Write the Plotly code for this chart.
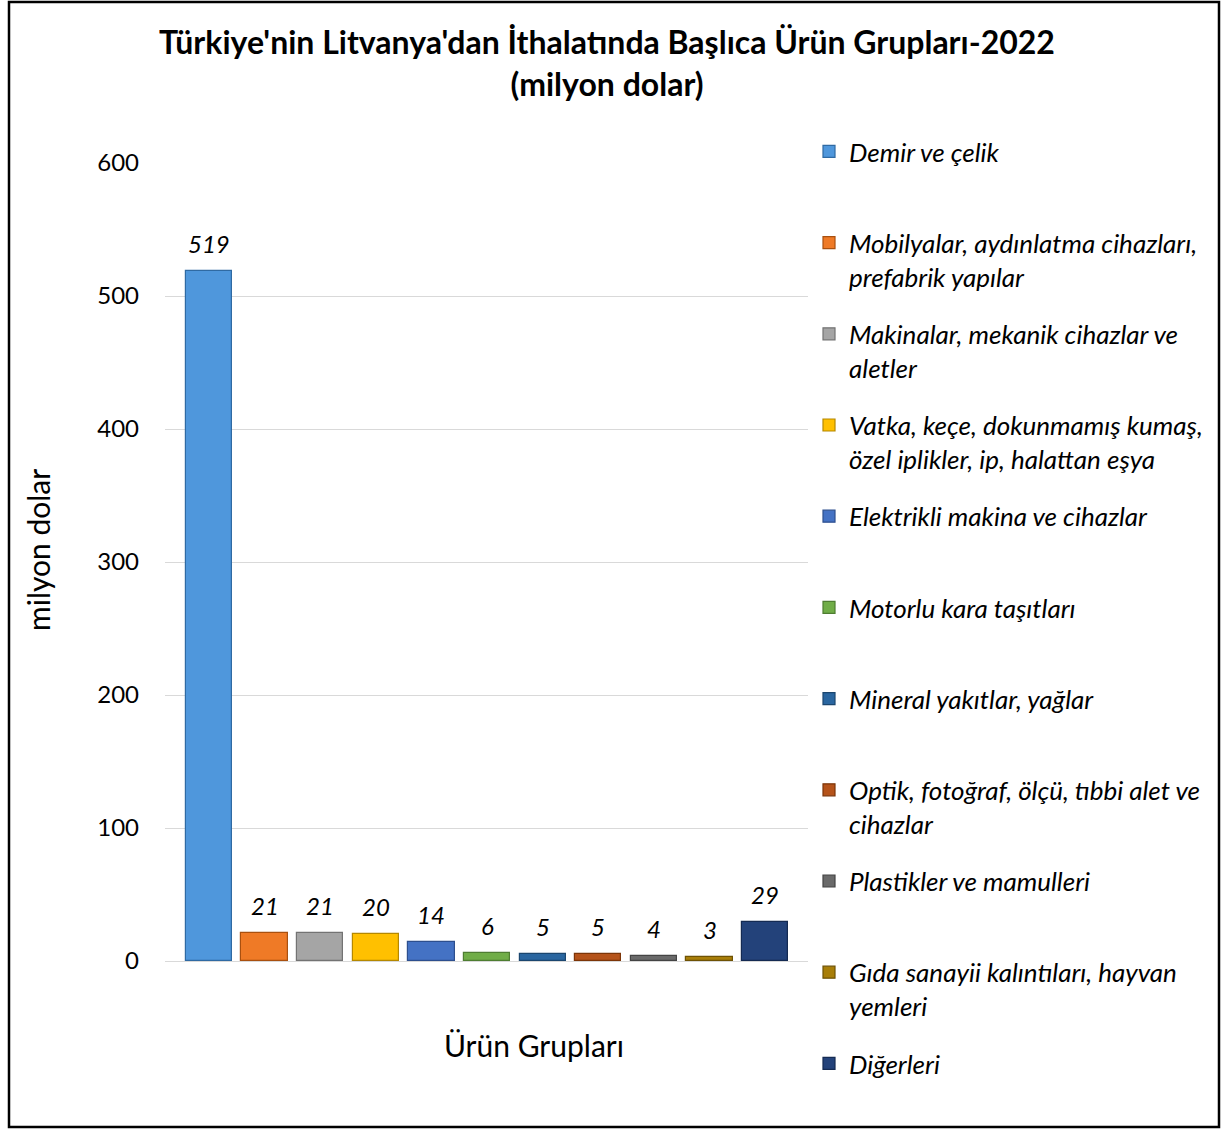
import plotly.graph_objects as go

# Türkiye'nin Litvanya'dan ithalatı, 2022, milyon dolar
groups = [
    "Demir ve çelik",
    "Mobilyalar, aydınlatma cihazları,<br>prefabrik yapılar",
    "Makinalar, mekanik cihazlar ve<br>aletler",
    "Vatka, keçe, dokunmamış kumaş,<br>özel iplikler, ip, halattan eşya",
    "Elektrikli makina ve cihazlar",
    "Motorlu kara taşıtları",
    "Mineral yakıtlar, yağlar",
    "Optik, fotoğraf, ölçü, tıbbi alet ve<br>cihazlar",
    "Plastikler ve mamulleri",
    "Gıda sanayii kalıntıları, hayvan<br>yemleri",
    "Diğerleri",
]
values = [519, 21, 21, 20, 14, 6, 5, 5, 4, 3, 29]
colors = ["#4f97dc", "#ef7a26", "#a5a5a5", "#ffc000", "#4472c4", "#70ad47",
          "#2a66a0", "#b5531a", "#6a6a6a", "#a87e08", "#23427a"]
edges = ["#2f6aa3", "#a9500f", "#737373", "#b58800", "#2d4f8e", "#4e7d31",
         "#1b466f", "#7c3508", "#444444", "#6e5204", "#142a52"]

W, H = 1223, 1130
L, R, T, B = 165, 808, 163, 961  # plot area in page pixels

def px_x(p):
    return (p - L) / (R - L)

def px_y(p):
    return (B - p) / (B - T)

FONT = "Lato"

fig = go.Figure()
layout_legends = {}
for i, (name, v) in enumerate(zip(groups, values)):
    key = "legend" if i == 0 else "legend%d" % (i + 1)
    fig.add_trace(go.Bar(
        x=[i], y=[v], name=name, width=0.83,
        marker=dict(color=colors[i], line=dict(color=edges[i], width=1.2)),
        legend=key, hoverinfo="name+y",
    ))
    fig.add_annotation(
        x=i, y=v, text=str(v), showarrow=False, yanchor="bottom", yshift=11,
        font=dict(family=FONT, size=24, color="black", style="italic"),
    )
    layout_legends[key] = dict(
        x=px_x(809), y=px_y(153 + 91.2 * i - 25), xanchor="left", yanchor="top",
        font=dict(family=FONT, size=26, color="black", style="italic"),
        bgcolor="rgba(0,0,0,0)", valign="top", itemclick=False,
    )

fig.update_layout(**layout_legends)

fig.update_layout(
    width=W, height=H,
    margin=dict(l=L, r=W - R, t=T, b=H - B, pad=0),
    paper_bgcolor="white", plot_bgcolor="white",
    bargap=0,
    title=dict(
        text="<b>Türkiye'nin Litvanya'dan İthalatında Başlıca Ürün Grupları-2022<br>(milyon dolar)</b>",
        x=607 / W, xanchor="center", xref="container",
        y=1 - 54 / H, yanchor="middle",
        font=dict(family=FONT, size=32, color="black"),
    ),
    xaxis=dict(range=[-0.79, 10.77], showticklabels=False, showgrid=False,
               zeroline=False, showline=False, fixedrange=True),
    yaxis=dict(range=[0, 600], dtick=100, showgrid=True, gridcolor="#d9d9d9",
               gridwidth=1, zeroline=True, zerolinecolor="#d9d9d9",
               zerolinewidth=1, showline=False, ticks="",
               ticklabelstandoff=25,
               tickfont=dict(family=FONT, size=24, color="black")),
    showlegend=True,
)

fig.add_annotation(
    xref="paper", yref="paper", x=px_x(38), y=px_y(550), text="milyon dolar",
    textangle=-90, showarrow=False, xanchor="center", yanchor="middle",
    font=dict(family=FONT, size=30, color="black"),
)
fig.add_annotation(
    xref="paper", yref="paper", x=px_x(534), y=px_y(1045), text="Ürün Grupları",
    showarrow=False, xanchor="center", yanchor="middle",
    font=dict(family=FONT, size=30, color="black"),
)

# outer frame
fig.add_shape(type="rect", xref="paper", yref="paper",
              x0=px_x(9), x1=px_x(1219), y0=px_y(1127), y1=px_y(2),
              line=dict(color="black", width=2.5), layer="above")

fig.write_html("out.html", config={"displayModeBar": False},
               post_script="document.body.style.margin='0';")
